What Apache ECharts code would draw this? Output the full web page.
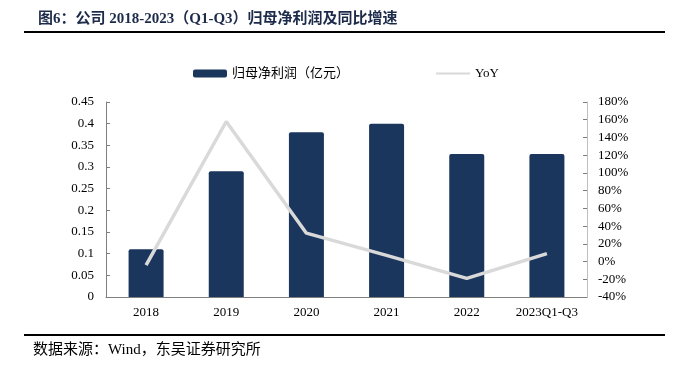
<!DOCTYPE html>
<html>
<head>
<meta charset="utf-8">
<script src="https://cdn.jsdelivr.net/npm/echarts@6/dist/echarts.min.js"></script>
<style>
html,body{margin:0;padding:0;background:#fff;}
#c{width:673px;height:367px;}
</style>
</head>
<body>
<div id="c"></div>
<script>
const categories = ['2018', '2019', '2020', '2021', '2022', '2023Q1-Q3'];
const profit = [0.11, 0.29, 0.38, 0.40, 0.33, 0.33];
const yoy = [-4, 158, 32, 7, -19, 9];
const leftTicks = {min: 0, max: 0.45, interval: 0.05};
const rightTicks = {min: -40, max: 180, interval: 20};

const FONT = "'Liberation Serif', 'Times New Roman', 'Noto Sans CJK SC', serif";
const chart = echarts.init(document.getElementById('c'));
chart.setOption({
  animation: false,
  backgroundColor: '#fff',
  textStyle: {fontFamily: FONT},
  title: {
    text: '图6：公司 2018-2023（Q1-Q3）归母净利润及同比增速',
    left: 33, top: 7,
    textStyle: {fontFamily: FONT, fontSize: 15, fontWeight: 'bold', color: '#1d2b4a'}
  },
  legend: {
    left: 188, top: 62,
    itemWidth: 34, itemHeight: 8, itemGap: 86,
    textStyle: {fontFamily: FONT, fontSize: 13, color: '#000'},
    data: [
      {name: '归母净利润（亿元）', icon: 'roundRect'},
      {name: 'YoY', itemStyle: {opacity: 0}}
    ]
  },
  grid: {left: 106, right: 86, top: 102, bottom: 70},
  xAxis: {
    type: 'category',
    data: categories,
    axisLine: {lineStyle: {color: '#7f7f7f'}},
    axisTick: {inside: true, length: 4, lineStyle: {color: '#7f7f7f'}},
    axisLabel: {color: '#000', fontSize: 13, margin: 9, fontFamily: FONT, interval: 0}
  },
  yAxis: [
    {
      type: 'value', min: leftTicks.min, max: leftTicks.max, interval: leftTicks.interval,
      axisLine: {show: true, lineStyle: {color: '#7f7f7f'}},
      axisTick: {show: true, inside: true, length: 4, lineStyle: {color: '#7f7f7f'}},
      splitLine: {show: false},
      axisLabel: {color: '#000', fontSize: 13, margin: 12, fontFamily: FONT,
        formatter: v => String(+v.toFixed(2))}
    },
    {
      type: 'value', min: rightTicks.min, max: rightTicks.max, interval: rightTicks.interval,
      position: 'right',
      axisLine: {show: true, lineStyle: {color: '#bfbfbf'}},
      axisTick: {show: true, inside: true, length: 4, lineStyle: {color: '#7f7f7f'}},
      splitLine: {show: false},
      axisLabel: {color: '#000', fontSize: 13, margin: 11, fontFamily: FONT,
        formatter: v => Math.round(v) + '%'}
    }
  ],
  series: [
    {
      name: '归母净利润（亿元）', type: 'bar', data: profit, barWidth: 35,
      itemStyle: {color: '#1b365d', borderRadius: [2, 2, 0, 0]}
    },
    {
      name: 'YoY', type: 'line', yAxisIndex: 1, data: yoy,
      symbol: 'none', lineStyle: {color: '#d9d9d9', width: 3.5},
      itemStyle: {color: '#d9d9d9'}
    }
  ],
  graphic: [
    {type: 'line', shape: {x1: 24, y1: 32, x2: 665, y2: 32}, style: {stroke: '#000', lineWidth: 2}},
    {type: 'line', shape: {x1: 24, y1: 335, x2: 665, y2: 335}, style: {stroke: '#000', lineWidth: 2}},
    {type: 'text', left: 33, top: 343,
      style: {text: '数据来源：Wind，东吴证券研究所', font: "15px " + FONT, fill: '#000'}}
  ]
});
</script>
</body>
</html>
